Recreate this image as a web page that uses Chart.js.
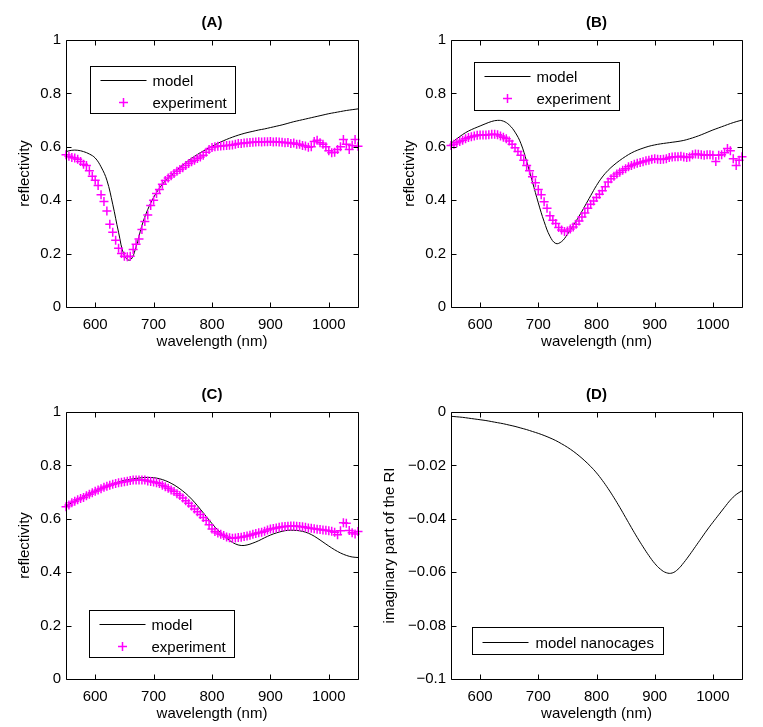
<!DOCTYPE html>
<html><head><meta charset="utf-8">
<script src="https://cdn.jsdelivr.net/npm/chart.js@4"></script>
<style>
html,body{margin:0;padding:0;background:#fff;}
#wrap{position:relative;width:763px;height:727px;background:#fff;}
canvas{position:absolute;}
</style></head><body>
<div id="wrap">
<canvas id="cA" width="381" height="363" style="left:0;top:0"></canvas>
<canvas id="cB" width="382" height="363" style="left:381px;top:0"></canvas>
<canvas id="cC" width="381" height="364" style="left:0;top:363px"></canvas>
<canvas id="cD" width="382" height="364" style="left:381px;top:363px"></canvas>
</div>
<script>
// ---------- data ----------
const expWl = [550,555,560,565,570,575,580,585,590,595,600,605,610,615,620,625,630,635,640,645,
650,655,660,665,670,675,680,685,690,695,700,705,710,715,720,725,730,735,740,745,
750,755,760,765,770,775,780,785,790,795,800,805,810,815,820,825,830,835,840,845,
850,855,860,865,870,875,880,885,890,895,900,905,910,915,920,925,930,935,940,945,
950,955,960,965,970,975,980,985,990,995,1000,1005,1010,1015,1020,1025,1030,1035,1040,1045,1050];
const modelWl = [550,560,570,580,590,600,610,620,630,640,650,660,670,680,690,700,710,720,730,740,
750,760,770,780,790,800,810,820,830,840,850,860,870,880,890,900,910,920,930,940,
950,960,970,980,990,1000,1010,1020,1030,1040,1050];

const xTicks = [600,700,800,900,1000];
const reflTicks = [0,0.2,0.4,0.6,0.8,1];
const reflTickLabels = ['0','0.2','0.4','0.6','0.8','1'];
const riTicks = [-0.1,-0.08,-0.06,-0.04,-0.02,0];
const riTickLabels = ['\u22120.1','\u22120.08','\u22120.06','\u22120.04','\u22120.02','0'];

// Panel A
const modelA = [0.582,0.587,0.587,0.582,0.573,0.558,0.525,0.475,0.385,0.28,0.192,0.176,0.225,0.305,0.365,0.41,0.445,0.472,0.493,0.513,
0.532,0.549,0.564,0.578,0.59,0.602,0.613,0.623,0.632,0.64,0.647,0.653,0.658,0.663,0.667,0.672,0.677,0.682,0.688,0.694,
0.699,0.704,0.709,0.714,0.719,0.724,0.728,0.732,0.736,0.739,0.742];
const expA = [0.57,0.565,0.56,0.558,0.553,0.545,0.535,0.53,0.51,0.49,0.475,0.455,0.42,0.395,0.36,0.31,0.28,0.25,0.22,0.2,
0.19,0.188,0.19,0.215,0.235,0.255,0.29,0.32,0.345,0.38,0.4,0.425,0.44,0.46,0.474,0.483,0.492,0.5,0.508,0.515,
0.522,0.53,0.537,0.544,0.55,0.556,0.562,0.568,0.58,0.59,0.597,0.6,0.602,0.603,0.604,0.605,0.606,0.607,0.61,0.612,
0.612,0.614,0.615,0.616,0.617,0.618,0.619,0.618,0.619,0.619,0.62,0.618,0.619,0.618,0.617,0.615,0.616,0.612,0.614,0.61,
0.61,0.605,0.603,0.598,0.6,0.62,0.625,0.615,0.61,0.6,0.585,0.578,0.58,0.59,0.6,0.627,0.61,0.59,0.605,0.627,0.602];

// Panel B
const modelB = [0.613,0.63,0.646,0.659,0.669,0.678,0.687,0.695,0.699,0.696,0.682,0.655,0.613,0.545,0.468,0.39,0.32,0.265,0.238,0.245,
0.272,0.305,0.34,0.378,0.417,0.455,0.487,0.512,0.532,0.549,0.564,0.577,0.587,0.595,0.602,0.607,0.611,0.614,0.617,0.62,
0.624,0.63,0.637,0.645,0.654,0.663,0.671,0.679,0.687,0.694,0.7];
const expB = [0.605,0.61,0.615,0.62,0.625,0.63,0.635,0.638,0.64,0.643,0.644,0.644,0.644,0.645,0.647,0.647,0.645,0.64,0.636,0.63,
0.622,0.61,0.596,0.582,0.568,0.55,0.53,0.51,0.488,0.465,0.44,0.42,0.394,0.37,0.342,0.325,0.313,0.298,0.288,0.283,
0.285,0.292,0.3,0.31,0.322,0.337,0.352,0.37,0.385,0.397,0.41,0.422,0.435,0.45,0.468,0.48,0.49,0.498,0.505,0.512,
0.518,0.525,0.53,0.535,0.538,0.541,0.544,0.548,0.55,0.553,0.555,0.553,0.552,0.553,0.555,0.56,0.562,0.563,0.563,0.565,
0.562,0.56,0.562,0.57,0.573,0.572,0.57,0.568,0.57,0.57,0.568,0.545,0.568,0.57,0.578,0.594,0.585,0.555,0.53,0.55,0.563];

// Panel C
const modelC = [0.648,0.66,0.672,0.683,0.694,0.704,0.714,0.723,0.731,0.738,0.744,0.748,0.751,0.754,0.755,0.754,0.75,0.743,0.733,0.72,
0.704,0.685,0.662,0.636,0.609,0.582,0.558,0.537,0.519,0.506,0.5,0.502,0.509,0.518,0.529,0.539,0.547,0.553,0.557,0.557,
0.555,0.55,0.541,0.528,0.513,0.498,0.484,0.472,0.463,0.457,0.455];
const expC = [0.645,0.652,0.66,0.666,0.671,0.676,0.68,0.686,0.692,0.698,0.703,0.708,0.713,0.718,0.722,0.726,0.729,0.732,0.735,0.737,
0.739,0.741,0.743,0.745,0.745,0.745,0.745,0.745,0.742,0.74,0.738,0.735,0.732,0.726,0.72,0.714,0.708,0.702,0.694,0.687,
0.678,0.668,0.658,0.648,0.637,0.626,0.616,0.605,0.594,0.578,0.562,0.552,0.547,0.542,0.537,0.532,0.529,0.527,0.528,0.53,
0.531,0.534,0.536,0.538,0.542,0.545,0.548,0.55,0.553,0.558,0.562,0.564,0.566,0.568,0.57,0.571,0.572,0.573,0.573,0.572,
0.571,0.57,0.568,0.566,0.565,0.563,0.561,0.56,0.558,0.557,0.555,0.553,0.55,0.54,0.555,0.585,0.583,0.556,0.548,0.543,0.552];

// Panel D
const modelD = [-0.0016,-0.0018,-0.002,-0.0023,-0.0026,-0.0029,-0.0032,-0.0036,-0.004,-0.0044,-0.0049,-0.0054,-0.006,-0.0066,-0.0073,-0.008,-0.0088,-0.0097,-0.0107,-0.0119,
-0.0132,-0.0147,-0.0164,-0.0183,-0.0204,-0.0228,-0.0256,-0.0287,-0.0321,-0.0357,-0.0395,-0.0433,-0.047,-0.0505,-0.0538,-0.0567,-0.0589,-0.0602,-0.0603,-0.0589,
-0.0564,-0.0535,-0.0504,-0.0473,-0.0442,-0.0413,-0.0385,-0.0357,-0.033,-0.0309,-0.0295];

// ---------- rendering ----------
Chart.defaults.font.family = "'Liberation Sans', Arial, sans-serif";
Chart.defaults.font.size = 15;
Chart.defaults.color = '#000';

const pts = (xs, ys) => xs.map((x, i) => ({x: x, y: ys[i]}));

const framePlugin = {
  id: 'frame',
  afterDraw(chart, args, o) {
    const {ctx, chartArea: a, scales} = chart;
    const L = Math.round(a.left) + 0.5, R = Math.round(a.right) + 0.5;
    const T = Math.round(a.top) + 0.5, B = Math.round(a.bottom) + 0.5;
    ctx.save();
    ctx.strokeStyle = '#000';
    ctx.lineWidth = 1;
    ctx.beginPath();
    ctx.rect(L, T, R - L, B - T);
    const tl = 5;
    scales.x.ticks.forEach(t => {
      const p = Math.round(scales.x.getPixelForValue(t.value)) + 0.5;
      ctx.moveTo(p, B); ctx.lineTo(p, B - tl);
      ctx.moveTo(p, T); ctx.lineTo(p, T + tl);
    });
    scales.y.ticks.forEach(t => {
      const p = Math.round(scales.y.getPixelForValue(t.value)) + 0.5;
      ctx.moveTo(L, p); ctx.lineTo(L + tl, p);
      ctx.moveTo(R, p); ctx.lineTo(R - tl, p);
    });
    ctx.stroke();
    // title
    ctx.fillStyle = '#000';
    ctx.font = "bold 15px 'Liberation Sans', Arial, sans-serif";
    ctx.textAlign = 'center';
    ctx.textBaseline = 'middle';
    ctx.fillText(o.title, (a.left + a.right) / 2, a.top - 17);
    // legend
    const lg = o.legend;
    const bx = Math.round(a.left + lg.dx) + 0.5, by = Math.round(a.top + lg.dy) + 0.5;
    ctx.fillStyle = '#fff';
    ctx.fillRect(bx, by, lg.w, lg.h);
    ctx.strokeStyle = '#000';
    ctx.strokeRect(bx, by, lg.w, lg.h);
    ctx.font = "15px 'Liberation Sans', Arial, sans-serif";
    ctx.textAlign = 'left';
    const items = chart.data.datasets.slice().sort((p, q) => p.legendIndex - q.legendIndex);
    items.forEach((ds, i) => {
      const y = Math.round(by + lg.row0 + 22 * i) + 0.5;
      if (ds.showLine) {
        ctx.strokeStyle = ds.borderColor;
        ctx.lineWidth = 1;
        ctx.beginPath();
        ctx.moveTo(bx + 10, y); ctx.lineTo(bx + 56, y);
        ctx.stroke();
      } else {
        ctx.strokeStyle = ds.borderColor;
        ctx.lineWidth = 1.5;
        ctx.beginPath();
        ctx.moveTo(bx + 33 - 4.5, y); ctx.lineTo(bx + 33 + 4.5, y);
        ctx.moveTo(bx + 33, y - 4.5); ctx.lineTo(bx + 33, y + 4.5);
        ctx.stroke();
      }
      ctx.fillStyle = '#000';
      ctx.fillText(ds.label, bx + lg.textX, y + 1);
    });
    ctx.restore();
  }
};

function makeChart(id, geom, datasets, yTicks, yLabels, yMin, yMax, yTitle, title, legend) {
  const canvas = document.getElementById(id);
  const W = canvas.width, H = canvas.height;
  return new Chart(canvas, {
    type: 'scatter',
    data: {datasets: datasets},
    plugins: [framePlugin],
    options: {
      responsive: false,
      animation: false,
      devicePixelRatio: 1,
      layout: {padding: {left: 0, top: geom.t, right: W - geom.r, bottom: 0}},
      plugins: {
        legend: {display: false},
        tooltip: {enabled: false},
        frame: {title: title, legend: legend}
      },
      scales: {
        x: {
          type: 'linear', min: 550, max: 1050,
          afterBuildTicks: s => { s.ticks = xTicks.map(v => ({value: v})); },
          afterFit: s => { s.height = H - geom.b; },
          grid: {display: false, drawTicks: false},
          border: {display: false},
          ticks: {padding: 9, maxRotation: 0, autoSkip: false, callback: v => String(v)},
          title: {display: true, text: 'wavelength (nm)', padding: {top: 0, bottom: H - geom.b - 44}}
        },
        y: {
          type: 'linear', min: yMin, max: yMax,
          afterBuildTicks: s => { s.ticks = yTicks.map(v => ({value: v})); },
          afterFit: s => { s.width = geom.l; },
          grid: {display: false, drawTicks: false},
          border: {display: false},
          ticks: {padding: 5, autoSkip: false, callback: (v, i) => yLabels[i]},
          title: {display: true, text: yTitle, padding: {top: geom.yt, bottom: 0}}
        }
      }
    }
  });
}

function refl(model, exp) {
  return [
    {label: 'experiment', legendIndex: 1, data: pts(expWl, exp), showLine: false, order: 0,
     pointStyle: 'cross', pointRadius: 4.5, pointBorderWidth: 1.5, borderColor: '#ff00ff', backgroundColor: '#ff00ff', clip: false},
    {label: 'model', legendIndex: 0, data: pts(modelWl, model), showLine: true, order: 1,
     borderColor: '#000', borderWidth: 1, pointRadius: 0, tension: 0.4, fill: false}
  ];
}

makeChart('cA', {l: 66, t: 40, r: 358, b: 307, yt: 16}, refl(modelA, expA), reflTicks, reflTickLabels, 0, 1,
  'reflectivity', '(A)', {dx: 24, dy: 26, w: 145, h: 47, row0: 13, textX: 62});
makeChart('cB', {l: 70, t: 40, r: 361, b: 307, yt: 20}, refl(modelB, expB), reflTicks, reflTickLabels, 0, 1,
  'reflectivity', '(B)', {dx: 23, dy: 22, w: 145, h: 48, row0: 13, textX: 62});
makeChart('cC', {l: 66, t: 49, r: 358, b: 316, yt: 16}, refl(modelC, expC), reflTicks, reflTickLabels, 0, 1,
  'reflectivity', '(C)', {dx: 23, dy: 198, w: 145, h: 47, row0: 13, textX: 62});
makeChart('cD', {l: 70, t: 49, r: 361, b: 316, yt: 0},
  [{label: 'model nanocages', legendIndex: 0, data: pts(modelWl, modelD), showLine: true,
    borderColor: '#000', borderWidth: 1, pointRadius: 0, tension: 0.4, fill: false}],
  riTicks, riTickLabels, -0.1, 0, 'imaginary part of the RI', '(D)',
  {dx: 21, dy: 215, w: 191, h: 27, row0: 14, textX: 63});
</script>
</body></html>
